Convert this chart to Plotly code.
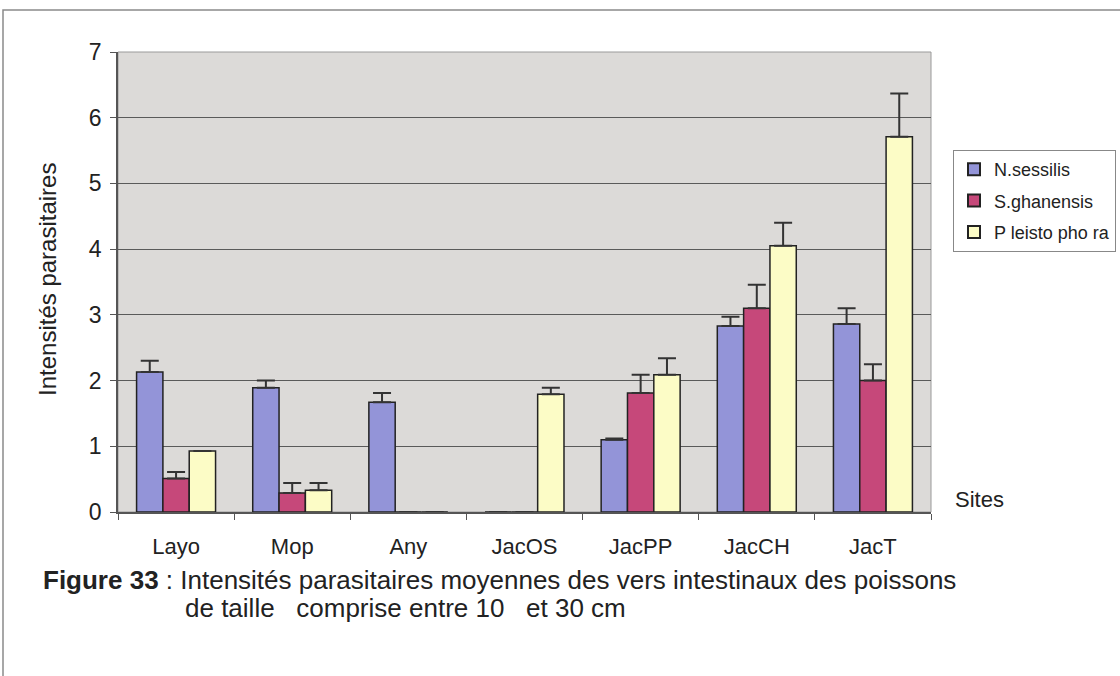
import plotly.graph_objects as go

# Sites and mean parasite intensities (with upper error bars)
sites = ["Layo", "Mop", "Any", "JacOS", "JacPP", "JacCH", "JacT"]

n_sessilis = [2.13, 1.89, 1.67, 0.0, 1.10, 2.83, 2.86]
n_sessilis_err = [0.17, 0.11, 0.14, 0.0, 0.02, 0.14, 0.24]

s_ghanensis = [0.51, 0.29, 0.0, 0.0, 1.81, 3.10, 2.00]
s_ghanensis_err = [0.10, 0.15, 0.0, 0.0, 0.28, 0.36, 0.25]

pleistophora = [0.93, 0.33, 0.0, 1.79, 2.09, 4.05, 5.71]
pleistophora_err = [0.0, 0.11, 0.0, 0.10, 0.25, 0.35, 0.66]

series = [
    ("N.sessilis", n_sessilis, n_sessilis_err, "#9394d8"),
    ("S.ghanensis", s_ghanensis, s_ghanensis_err, "#c6487a"),
    ("P leisto pho ra", pleistophora, pleistophora_err, "#fcfcc6"),
]

FONT = "Liberation Sans, Arial, sans-serif"
INK = "#222222"
W, H = 1120, 676
L, R, T, B = 118, 931, 52, 512  # plot-area edges in pixels


def px_x(px):
    return (px - L) / (R - L)


def px_y(py):
    return (B - py) / (B - T)


fig = go.Figure()
for i, (name, vals, errs, color) in enumerate(series):
    fig.add_trace(go.Bar(
        x=sites, y=vals, name=name, legendgroup=f"g{i}",
        marker=dict(color=color, line=dict(color=INK, width=1.5)),
        error_y=dict(type="data", array=errs, arrayminus=[0] * len(errs),
                     symmetric=False, color="#333333", thickness=2, width=9),
    ))

fig.update_layout(
    width=W, height=H,
    margin=dict(l=L, r=W - R, t=T, b=H - B, pad=0, autoexpand=False),
    paper_bgcolor="white",
    plot_bgcolor="#dcdad8",
    barmode="group",
    bargap=0.32,
    bargroupgap=0,
    font=dict(family=FONT, color=INK),
    showlegend=True,
    legend=dict(
        x=px_x(953), y=px_y(150), xanchor="left", yanchor="top",
        bgcolor="white", bordercolor="#888888", borderwidth=1,
        font=dict(size=18, family=FONT, color=INK),
        tracegroupgap=5, itemsizing="constant", itemwidth=30,
    ),
    xaxis=dict(
        showgrid=False, showline=True, linecolor="#555555", linewidth=1.5,
        ticks="outside", ticklen=6, tickcolor="#555555", tickson="boundaries",
        ticklabelstandoff=14,
        tickfont=dict(size=22, family=FONT, color=INK),
    ),
    yaxis=dict(
        range=[0, 7], dtick=1, showgrid=True, gridcolor="#5a5a5a", gridwidth=1,
        showline=True, linecolor="#555555", linewidth=1.5,
        ticks="outside", ticklen=6, tickcolor="#555555",
        ticklabelstandoff=4,
        tickfont=dict(size=23, family=FONT, color=INK),
        zeroline=False,
    ),
)

# plot-area frame (top/right edges) and outer figure frame
fig.add_shape(type="rect", xref="paper", yref="paper", x0=0, x1=1, y0=0, y1=1,
              line=dict(color="#9a9a9a", width=1), layer="below")
fig.add_shape(type="rect", xref="paper", yref="paper",
              x0=px_x(3), x1=px_x(1130), y0=px_y(690), y1=px_y(10),
              line=dict(color="#8a8a8a", width=1.5))

fig.add_annotation(text="Intensités parasitaires", xref="paper", yref="paper",
                   x=px_x(47), y=px_y(280), xanchor="center", yanchor="middle",
                   textangle=-90, showarrow=False,
                   font=dict(size=24, family=FONT, color=INK))
fig.add_annotation(text="Sites", xref="paper", yref="paper",
                   x=px_x(979), y=px_y(499), xanchor="center", yanchor="middle",
                   showarrow=False,
                   font=dict(size=22, family=FONT, color=INK))
fig.add_annotation(
    text="<b>Figure 33</b> : Intensités parasitaires moyennes des vers intestinaux des poissons",
    xref="paper", yref="paper", x=px_x(41), y=px_y(580),
    xanchor="left", yanchor="middle", showarrow=False,
    font=dict(size=26, family=FONT, color=INK))
fig.add_annotation(
    text="de taille\u00a0\u00a0 comprise entre 10\u00a0\u00a0 et 30 cm",
    xref="paper", yref="paper", x=px_x(183), y=px_y(608),
    xanchor="left", yanchor="middle", showarrow=False,
    font=dict(size=26, family=FONT, color=INK))

fig.write_html("out.html")
